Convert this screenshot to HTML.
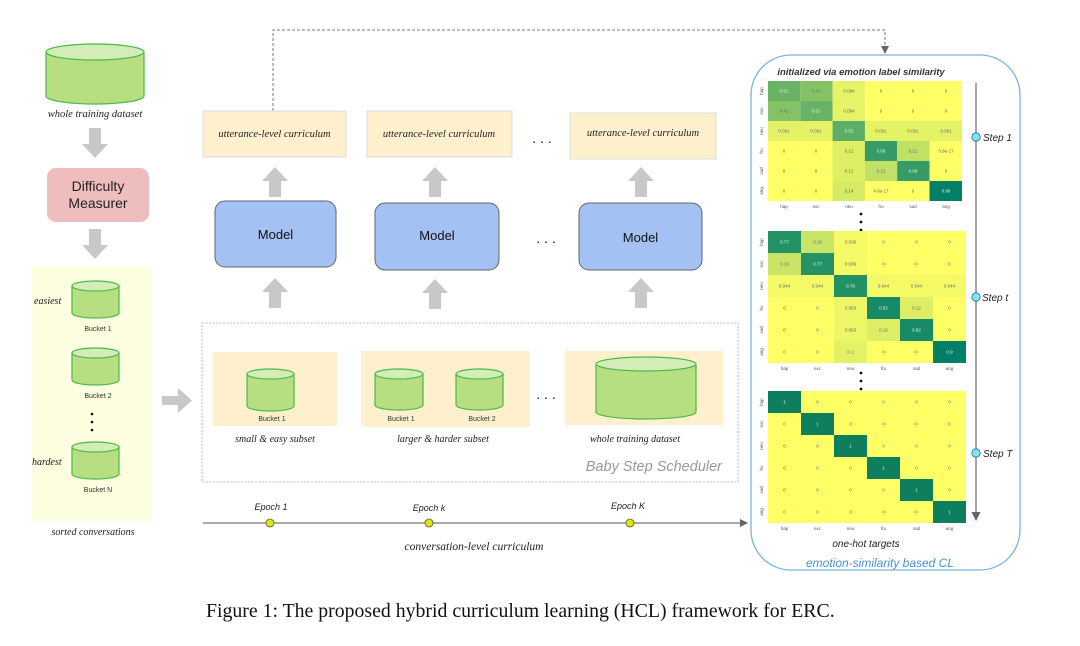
<!DOCTYPE html>
<html><head><meta charset="utf-8"><style>
html,body{margin:0;padding:0;background:#fff;}
svg{display:block;}
.s{font-family:"Liberation Serif",serif;font-style:italic;}
.a{font-family:"Liberation Sans",sans-serif;}
.c{font-family:"Liberation Sans",sans-serif;font-size:4.5px;fill:#666;text-anchor:middle;}
.l{font-family:"Liberation Sans",sans-serif;font-size:4.5px;fill:#555;text-anchor:middle;}
</style></head><body>
<svg width="1080" height="646" viewBox="0 0 1080 646" xmlns="http://www.w3.org/2000/svg">
<defs>
<marker id="ah" markerWidth="8" markerHeight="8" refX="7" refY="4" orient="auto" markerUnits="userSpaceOnUse"><path d="M0,0 L8,4 L0,8 z" fill="#666"/></marker>
<g id="arrDown"><path d="M-6,0 H6 V16 H13 L0,30 L-13,16 H-6 Z" fill="#c8c8c8"/></g>
<g id="arrUp"><path d="M-6,30 H6 V14 H13 L0,0 L-13,14 H-6 Z" fill="#c8c8c8"/></g>
</defs>

<!-- Left column -->
<path d="M46,52 V96 A49,8 0 0 0 144,96 V52" fill="#b8de82" stroke="#4cb848" stroke-width="1.2"/>
<ellipse cx="95" cy="52" rx="49" ry="8" fill="#d4ecb8" stroke="#4cb848" stroke-width="1.2"/>
<text x="95" y="117" class="s" font-size="10.5" text-anchor="middle" fill="#222">whole training dataset</text>
<use href="#arrDown" x="95" y="128"/>
<rect x="47" y="168" width="102" height="54" rx="9" fill="#eebdbd"/>
<text x="98" y="191" class="a" font-size="14" text-anchor="middle" fill="#222">Difficulty</text>
<text x="98" y="208" class="a" font-size="14" text-anchor="middle" fill="#222">Measurer</text>
<use href="#arrDown" x="95" y="229"/>
<rect x="32" y="266" width="120" height="255" fill="#fdfde0"/>
<g id="bk">
<path d="M72,286 V313 A23.5,5 0 0 0 119,313 V286" fill="#b8de82" stroke="#4cb848" stroke-width="1.2"/>
<ellipse cx="95.5" cy="286" rx="23.5" ry="5" fill="#d4ecb8" stroke="#4cb848" stroke-width="1.2"/>
</g>
<use href="#bk" y="67"/>
<use href="#bk" y="161"/>
<text x="98" y="331" class="a" font-size="7" text-anchor="middle" fill="#333">Bucket 1</text>
<text x="98" y="398" class="a" font-size="7" text-anchor="middle" fill="#333">Bucket 2</text>
<text x="98" y="492" class="a" font-size="7" text-anchor="middle" fill="#333">Bucket N</text>
<text x="34" y="304" class="s" font-size="10" fill="#222">easiest</text>
<text x="32" y="465" class="s" font-size="10" fill="#222">hardest</text>
<circle cx="92" cy="414" r="1.3" fill="#111"/><circle cx="92" cy="422" r="1.3" fill="#111"/><circle cx="92" cy="430" r="1.3" fill="#111"/>
<text x="93" y="535" class="s" font-size="10" text-anchor="middle" fill="#222">sorted conversations</text>
<path d="M162,396 H178 V388 L192,400.5 L178,413 V405 H162 Z" fill="#c8c8c8"/>

<!-- Dashed feedback line -->
<path d="M273,111 V30 H885 V46" fill="none" stroke="#777" stroke-width="1" stroke-dasharray="3,2"/>
<path d="M881,46 L889,46 L885,54 Z" fill="#666"/>

<!-- Utterance boxes -->
<rect x="203" y="111" width="143" height="46" fill="#fef0cc" stroke="#ddd" stroke-width="1"/>
<text x="274.5" y="137" class="s" font-size="10.5" text-anchor="middle" fill="#222">utterance-level curriculum</text>
<rect x="367" y="111" width="145" height="46" fill="#fef0cc" stroke="#ddd" stroke-width="1"/>
<text x="439" y="137" class="s" font-size="10.5" text-anchor="middle" fill="#222">utterance-level curriculum</text>
<rect x="570" y="113" width="146" height="46" fill="#fef0cc" stroke="#ddd" stroke-width="1"/>
<text x="643" y="136" class="s" font-size="10.5" text-anchor="middle" fill="#222">utterance-level curriculum</text>
<text x="542" y="143" class="a" font-size="14" text-anchor="middle" fill="#111">. . .</text>

<use href="#arrUp" x="275" y="167"/>
<use href="#arrUp" x="435" y="167"/>
<use href="#arrUp" x="641" y="167"/>

<!-- Models -->
<rect x="215" y="201" width="121" height="66" rx="10" fill="#a3c1f2" stroke="#666" stroke-width="1"/>
<text x="275.5" y="239" class="a" font-size="13" text-anchor="middle" fill="#111">Model</text>
<rect x="375" y="203" width="124" height="67" rx="10" fill="#a3c1f2" stroke="#666" stroke-width="1"/>
<text x="437" y="240" class="a" font-size="13" text-anchor="middle" fill="#111">Model</text>
<rect x="579" y="203" width="123" height="67" rx="10" fill="#a3c1f2" stroke="#666" stroke-width="1"/>
<text x="640.5" y="242" class="a" font-size="13" text-anchor="middle" fill="#111">Model</text>
<text x="546" y="243" class="a" font-size="14" text-anchor="middle" fill="#111">. . .</text>

<use href="#arrUp" x="275" y="278"/>
<use href="#arrUp" x="435" y="279"/>
<use href="#arrUp" x="641" y="278"/>

<!-- Scheduler dashed box -->
<rect x="202" y="323" width="536" height="159" fill="none" stroke="#aaa" stroke-width="0.8" stroke-dasharray="2,1.5"/>
<rect x="213" y="352" width="124" height="74" fill="#fef0cc"/>
<path d="M247,374 V406 A23.5,5 0 0 0 294,406 V374" fill="#b8de82" stroke="#4cb848" stroke-width="1.2"/>
<ellipse cx="270.5" cy="374" rx="23.5" ry="5" fill="#d4ecb8" stroke="#4cb848" stroke-width="1.2"/>
<text x="272" y="421" class="a" font-size="7" text-anchor="middle" fill="#333">Bucket 1</text>
<text x="275" y="442" class="s" font-size="10" text-anchor="middle" fill="#222">small &amp; easy subset</text>

<rect x="361" y="351" width="169" height="76" fill="#fef0cc"/>
<path d="M375,374 V405 A24,5 0 0 0 423,405 V374" fill="#b8de82" stroke="#4cb848" stroke-width="1.2"/>
<ellipse cx="399" cy="374" rx="24" ry="5" fill="#d4ecb8" stroke="#4cb848" stroke-width="1.2"/>
<path d="M456,374 V405 A23.5,5 0 0 0 503,405 V374" fill="#b8de82" stroke="#4cb848" stroke-width="1.2"/>
<ellipse cx="479.5" cy="374" rx="23.5" ry="5" fill="#d4ecb8" stroke="#4cb848" stroke-width="1.2"/>
<text x="401" y="421" class="a" font-size="7" text-anchor="middle" fill="#333">Bucket 1</text>
<text x="482" y="421" class="a" font-size="7" text-anchor="middle" fill="#333">Bucket 2</text>
<text x="443" y="442" class="s" font-size="10" text-anchor="middle" fill="#222">larger &amp; harder subset</text>
<text x="546" y="399" class="a" font-size="14" text-anchor="middle" fill="#111">. . .</text>

<rect x="565" y="351" width="158" height="74" fill="#fef0cc"/>
<path d="M596,364 V412 A50,7 0 0 0 696,412 V364" fill="#b8de82" stroke="#4cb848" stroke-width="1.2"/>
<ellipse cx="646" cy="364" rx="50" ry="7" fill="#d4ecb8" stroke="#4cb848" stroke-width="1.2"/>
<text x="635" y="442" class="s" font-size="10" text-anchor="middle" fill="#222">whole training dataset</text>
<text x="722" y="471" class="a" font-size="14.5" font-style="italic" text-anchor="end" fill="#999">Baby Step Scheduler</text>

<!-- Epoch axis -->
<line x1="203" y1="523" x2="747" y2="523" stroke="#777" stroke-width="1.2" marker-end="url(#ah)"/>
<circle cx="270" cy="523" r="4" fill="#dde800" stroke="#555" stroke-width="0.8"/>
<circle cx="429" cy="523" r="4" fill="#dde800" stroke="#555" stroke-width="0.8"/>
<circle cx="630" cy="523" r="4" fill="#dde800" stroke="#555" stroke-width="0.8"/>
<text x="271" y="510" class="a" font-size="9" font-style="italic" text-anchor="middle" fill="#222">Epoch  1</text>
<text x="429" y="511" class="a" font-size="9" font-style="italic" text-anchor="middle" fill="#222">Epoch  k</text>
<text x="628" y="509" class="a" font-size="9" font-style="italic" text-anchor="middle" fill="#222">Epoch  K</text>
<text x="474" y="550" class="s" font-size="11.5" text-anchor="middle" fill="#222">conversation-level curriculum</text>

<!-- Right panel -->
<rect x="751" y="55" width="269" height="515" rx="40" fill="none" stroke="#7ab4e0" stroke-width="1.3"/>
<text x="861" y="75" class="a" font-size="9.5" font-style="italic" font-weight="bold" text-anchor="middle" fill="#333">initialized via emotion label similarity</text>

<!-- Matrix 1 -->
<g transform="translate(768,81)">
<rect x="0" y="0" width="32.3" height="20" fill="#68b366"/><rect x="32.3" y="0" width="32.3" height="20" fill="#85c266"/><rect x="64.6" y="0" width="32.3" height="20" fill="#e6f366"/><rect x="96.9" y="0" width="97.1" height="20" fill="#ffff66"/>
<rect x="0" y="20" width="32.3" height="20" fill="#85c266"/><rect x="32.3" y="20" width="32.3" height="20" fill="#68b366"/><rect x="64.6" y="20" width="32.3" height="20" fill="#e6f366"/><rect x="96.9" y="20" width="97.1" height="20" fill="#ffff66"/>
<rect x="0" y="40" width="194" height="20" fill="#e4f266"/><rect x="64.6" y="40" width="32.3" height="20" fill="#5cad66"/>
<rect x="0" y="60" width="194" height="60" fill="#ffff66"/>
<rect x="64.6" y="60" width="32.3" height="40" fill="#deef66"/><rect x="64.6" y="100" width="32.3" height="20" fill="#d5eb66"/>
<rect x="96.9" y="60" width="32.3" height="20" fill="#369b66"/><rect x="129.2" y="60" width="32.3" height="20" fill="#c1e066"/>
<rect x="96.9" y="80" width="32.3" height="20" fill="#c1e066"/><rect x="129.2" y="80" width="32.3" height="20" fill="#369b66"/>
<rect x="161.5" y="100" width="32.5" height="20" fill="#008066"/>
<g class="c">
<text x="16" y="11.5" fill="#eee">0.51</text><text x="48" y="11.5">0.41</text><text x="81" y="11.5">0.084</text><text x="113" y="11.5">0</text><text x="145" y="11.5">0</text><text x="178" y="11.5">0</text>
<text x="16" y="31.5">0.41</text><text x="48" y="31.5" fill="#eee">0.51</text><text x="81" y="31.5">0.084</text><text x="113" y="31.5">0</text><text x="145" y="31.5">0</text><text x="178" y="31.5">0</text>
<text x="16" y="51.5">0.091</text><text x="48" y="51.5">0.091</text><text x="81" y="51.5" fill="#eee">0.55</text><text x="113" y="51.5">0.091</text><text x="145" y="51.5">0.091</text><text x="178" y="51.5">0.091</text>
<text x="16" y="71.5">0</text><text x="48" y="71.5">0</text><text x="81" y="71.5">0.11</text><text x="113" y="71.5" fill="#eee">0.68</text><text x="145" y="71.5">0.21</text><text x="178" y="71.5">3.8e-17</text>
<text x="16" y="91.5">0</text><text x="48" y="91.5">0</text><text x="81" y="91.5">0.11</text><text x="113" y="91.5">0.21</text><text x="145" y="91.5" fill="#eee">0.68</text><text x="178" y="91.5">0</text>
<text x="16" y="111.5">0</text><text x="48" y="111.5">0</text><text x="81" y="111.5">0.14</text><text x="113" y="111.5">4.8e-17</text><text x="145" y="111.5">0</text><text x="178" y="111.5" fill="#eee">0.86</text>
</g>
<g class="l">
<text x="16" y="127">hap</text><text x="48" y="127">exc</text><text x="81" y="127">neu</text><text x="113" y="127">fru</text><text x="145" y="127">sad</text><text x="178" y="127">ang</text>
<text transform="translate(-5,10) rotate(-90)">hap</text><text transform="translate(-5,30) rotate(-90)">exc</text><text transform="translate(-5,50) rotate(-90)">neu</text><text transform="translate(-5,70) rotate(-90)">fru</text><text transform="translate(-5,90) rotate(-90)">sad</text><text transform="translate(-5,110) rotate(-90)">ang</text>
</g>
</g>
<circle cx="861" cy="214" r="1.4" fill="#111"/><circle cx="861" cy="222" r="1.4" fill="#111"/><circle cx="861" cy="230" r="1.4" fill="#111"/>

<!-- Matrix 2 -->
<g transform="translate(768,231)">
<rect x="0" y="0" width="198" height="132" fill="#ffff66"/>
<rect x="0" y="0" width="33" height="22" fill="#259266"/><rect x="33" y="0" width="33" height="22" fill="#c9e466"/><rect x="66" y="0" width="33" height="44" fill="#f4f966"/>
<rect x="0" y="22" width="33" height="22" fill="#c9e466"/><rect x="33" y="22" width="33" height="22" fill="#259266"/>
<rect x="0" y="44" width="198" height="22" fill="#f4f966"/><rect x="66" y="44" width="33" height="22" fill="#229166"/>
<rect x="66" y="66" width="33" height="44" fill="#edf666"/><rect x="66" y="110" width="33" height="22" fill="#e3f166"/>
<rect x="99" y="66" width="33" height="22" fill="#178b66"/><rect x="132" y="66" width="33" height="22" fill="#ddee66"/>
<rect x="99" y="88" width="33" height="22" fill="#ddee66"/><rect x="132" y="88" width="33" height="22" fill="#178b66"/>
<rect x="165" y="110" width="33" height="22" fill="#008066"/>
<g class="c">
<text x="16.5" y="12.5" fill="#eee">0.77</text><text x="49.5" y="12.5">0.19</text><text x="82.5" y="12.5">0.039</text><text x="115.5" y="12.5">0</text><text x="148.5" y="12.5">0</text><text x="181.5" y="12.5">0</text>
<text x="16.5" y="34.5">0.19</text><text x="49.5" y="34.5" fill="#eee">0.77</text><text x="82.5" y="34.5">0.039</text><text x="115.5" y="34.5">0</text><text x="148.5" y="34.5">0</text><text x="181.5" y="34.5">0</text>
<text x="16.5" y="56.5">0.044</text><text x="49.5" y="56.5">0.044</text><text x="82.5" y="56.5" fill="#eee">0.78</text><text x="115.5" y="56.5">0.044</text><text x="148.5" y="56.5">0.044</text><text x="181.5" y="56.5">0.044</text>
<text x="16.5" y="78.5">0</text><text x="49.5" y="78.5">0</text><text x="82.5" y="78.5">0.063</text><text x="115.5" y="78.5" fill="#eee">0.82</text><text x="148.5" y="78.5">0.12</text><text x="181.5" y="78.5">0</text>
<text x="16.5" y="100.5">0</text><text x="49.5" y="100.5">0</text><text x="82.5" y="100.5">0.063</text><text x="115.5" y="100.5">0.12</text><text x="148.5" y="100.5" fill="#eee">0.82</text><text x="181.5" y="100.5">0</text>
<text x="16.5" y="122.5">0</text><text x="49.5" y="122.5">0</text><text x="82.5" y="122.5">0.1</text><text x="115.5" y="122.5">0</text><text x="148.5" y="122.5">0</text><text x="181.5" y="122.5" fill="#eee">0.9</text>
</g>
<g class="l">
<text x="16.5" y="139">hap</text><text x="49.5" y="139">exc</text><text x="82.5" y="139">neu</text><text x="115.5" y="139">fru</text><text x="148.5" y="139">sad</text><text x="181.5" y="139">ang</text>
<text transform="translate(-5,11) rotate(-90)">hap</text><text transform="translate(-5,33) rotate(-90)">exc</text><text transform="translate(-5,55) rotate(-90)">neu</text><text transform="translate(-5,77) rotate(-90)">fru</text><text transform="translate(-5,99) rotate(-90)">sad</text><text transform="translate(-5,121) rotate(-90)">ang</text>
</g>
</g>
<circle cx="861" cy="373" r="1.4" fill="#111"/><circle cx="861" cy="381" r="1.4" fill="#111"/><circle cx="861" cy="389" r="1.4" fill="#111"/>

<!-- Matrix 3 -->
<g transform="translate(768,391)">
<rect x="0" y="0" width="198" height="132" fill="#ffff66"/>
<rect x="0" y="0" width="33" height="22" fill="#0d7f5e"/><rect x="33" y="22" width="33" height="22" fill="#0d7f5e"/><rect x="66" y="44" width="33" height="22" fill="#0d7f5e"/><rect x="99" y="66" width="33" height="22" fill="#0d7f5e"/><rect x="132" y="88" width="33" height="22" fill="#0d7f5e"/><rect x="165" y="110" width="33" height="22" fill="#0d7f5e"/>
<g class="c">
<text x="16.5" y="12.5" fill="#eee">1</text><text x="49.5" y="12.5">0</text><text x="82.5" y="12.5">0</text><text x="115.5" y="12.5">0</text><text x="148.5" y="12.5">0</text><text x="181.5" y="12.5">0</text>
<text x="16.5" y="34.5">0</text><text x="49.5" y="34.5" fill="#eee">1</text><text x="82.5" y="34.5">0</text><text x="115.5" y="34.5">0</text><text x="148.5" y="34.5">0</text><text x="181.5" y="34.5">0</text>
<text x="16.5" y="56.5">0</text><text x="49.5" y="56.5">0</text><text x="82.5" y="56.5" fill="#eee">1</text><text x="115.5" y="56.5">0</text><text x="148.5" y="56.5">0</text><text x="181.5" y="56.5">0</text>
<text x="16.5" y="78.5">0</text><text x="49.5" y="78.5">0</text><text x="82.5" y="78.5">0</text><text x="115.5" y="78.5" fill="#eee">1</text><text x="148.5" y="78.5">0</text><text x="181.5" y="78.5">0</text>
<text x="16.5" y="100.5">0</text><text x="49.5" y="100.5">0</text><text x="82.5" y="100.5">0</text><text x="115.5" y="100.5">0</text><text x="148.5" y="100.5" fill="#eee">1</text><text x="181.5" y="100.5">0</text>
<text x="16.5" y="122.5">0</text><text x="49.5" y="122.5">0</text><text x="82.5" y="122.5">0</text><text x="115.5" y="122.5">0</text><text x="148.5" y="122.5">0</text><text x="181.5" y="122.5" fill="#eee">1</text>
</g>
<g class="l">
<text x="16.5" y="139">hap</text><text x="49.5" y="139">exc</text><text x="82.5" y="139">neu</text><text x="115.5" y="139">fru</text><text x="148.5" y="139">sad</text><text x="181.5" y="139">ang</text>
<text transform="translate(-5,11) rotate(-90)">hap</text><text transform="translate(-5,33) rotate(-90)">exc</text><text transform="translate(-5,55) rotate(-90)">neu</text><text transform="translate(-5,77) rotate(-90)">fru</text><text transform="translate(-5,99) rotate(-90)">sad</text><text transform="translate(-5,121) rotate(-90)">ang</text>
</g>
</g>

<!-- Step timeline -->
<line x1="976" y1="83" x2="976" y2="513" stroke="#888" stroke-width="1.5"/>
<path d="M971.5,512 L980.5,512 L976,521 Z" fill="#666"/>
<circle cx="976" cy="137" r="4.2" fill="#80e4f4" stroke="#2a6f80" stroke-width="0.8"/>
<circle cx="976" cy="297" r="4.2" fill="#80e4f4" stroke="#2a6f80" stroke-width="0.8"/>
<circle cx="976" cy="453" r="4.2" fill="#80e4f4" stroke="#2a6f80" stroke-width="0.8"/>
<text x="983" y="141" class="a" font-size="10" font-style="italic" fill="#222">Step  1</text>
<text x="982" y="301" class="a" font-size="10" font-style="italic" fill="#222">Step  t</text>
<text x="983" y="457" class="a" font-size="10" font-style="italic" fill="#222">Step  T</text>

<text x="866" y="547" class="a" font-size="10" font-style="italic" text-anchor="middle" fill="#222">one-hot  targets</text>
<text x="880" y="567" class="a" font-size="12" font-style="italic" text-anchor="middle" fill="#4a90c8">emotion-similarity based CL</text>

<!-- Caption -->
<text x="206" y="617" font-family="Liberation Serif, serif" font-size="19.8" fill="#111">Figure 1: The proposed hybrid curriculum learning (HCL) framework for ERC.</text>
</svg>
</body></html>
